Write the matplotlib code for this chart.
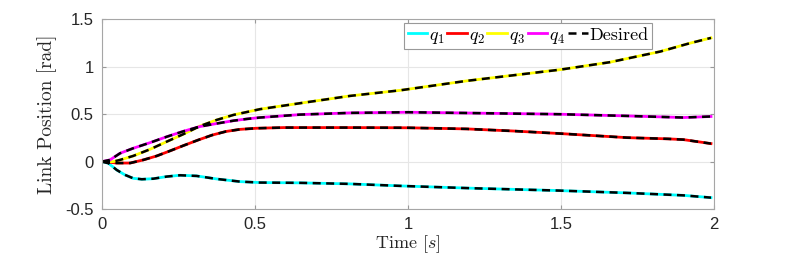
import numpy as np
import matplotlib.pyplot as plt

plt.rcParams['mathtext.fontset'] = 'cm'

# joint trajectories (time in s, angle in rad)
t_q1 = [0, 0.021, 0.048, 0.075, 0.102, 0.13, 0.168, 0.211, 0.255, 0.309, 0.375,
        0.451, 0.516, 0.647, 0.81, 0.974, 1.2, 1.497, 1.715, 1.9, 1.99]
q1 = [0, -0.017, -0.088, -0.14, -0.176, -0.186, -0.18, -0.158, -0.144, -0.151, -0.183,
      -0.211, -0.221, -0.224, -0.235, -0.256, -0.28, -0.306, -0.33, -0.356, -0.38]

t_q2 = [0, 0.015, 0.048, 0.092, 0.135, 0.179, 0.222, 0.266, 0.315, 0.36, 0.405, 0.45,
        0.505, 0.593, 0.81, 1.0, 1.192, 1.35, 1.497, 1.715, 1.85, 1.9, 1.99]
q2 = [0, -0.003, -0.015, -0.015, 0.018, 0.06, 0.113, 0.169, 0.229, 0.28, 0.318, 0.34,
      0.352, 0.359, 0.359, 0.357, 0.345, 0.322, 0.296, 0.253, 0.24, 0.232, 0.19]

t_q3 = [0, 0.037, 0.059, 0.102, 0.157, 0.211, 0.266, 0.32, 0.375, 0.43, 0.516,
        0.647, 0.81, 0.974, 1.192, 1.497, 1.66, 1.824, 1.922, 1.99]
q3 = [0, 0.0, 0.018, 0.06, 0.13, 0.21, 0.29, 0.375, 0.44, 0.493, 0.553,
      0.616, 0.693, 0.752, 0.852, 0.97, 1.049, 1.161, 1.25, 1.305]

t_q4 = [0, 0.026, 0.059, 0.102, 0.157, 0.211, 0.266, 0.32, 0.375, 0.43, 0.473, 0.516,
        0.647, 0.81, 1.0, 1.497, 1.715, 1.9, 1.99]
q4 = [0, 0.018, 0.088, 0.141, 0.2, 0.262, 0.32, 0.37, 0.402, 0.432, 0.45, 0.465,
      0.496, 0.514, 0.521, 0.5, 0.482, 0.465, 0.476]

labels = ['$q_1$', '$q_2$', '$q_3$', '$q_4$']
colors = ['cyan', 'red', 'yellow', 'magenta']

fig = plt.figure(figsize=(7.89, 2.59), dpi=100)
ax = fig.add_axes([0.1293, 0.193, 0.7757, 0.732])

for tt, qq, lab, col in zip([t_q1, t_q2, t_q3, t_q4], [q1, q2, q3, q4], labels, colors):
    ax.plot(tt, qq, color=col, lw=2, label=lab)
for k, (tt, qq) in enumerate(zip([t_q1, t_q2, t_q3, t_q4], [q1, q2, q3, q4])):
    ax.plot(tt, qq, '--', color='k', lw=1.8, dashes=(3.2, 2.2),
            label='Desired' if k == 0 else None)

ax.set_xlim(0, 2)
ax.set_ylim(-0.5, 1.5)
ax.set_xticks([0, 0.5, 1, 1.5, 2])
ax.set_xticklabels(['0', '0.5', '1', '1.5', '2'])
ax.set_yticks([-0.5, 0, 0.5, 1, 1.5])
ax.set_yticklabels(['-0.5', '0', '0.5', '1', '1.5'])
ax.grid(True, color='0.9', lw=0.8)
ax.tick_params(direction='in', length=3, colors='0.6', labelcolor='0.15',
               labelsize=12, top=True, right=True)
ax.tick_params(axis='x', pad=6)
ax.tick_params(axis='y', pad=6)
for lbl in ax.get_xticklabels() + ax.get_yticklabels():
    lbl.set_fontfamily('Liberation Sans')
for sp in ax.spines.values():
    sp.set_color('0.65')

ax.set_xlabel('Time [$s$]', fontfamily='cmr10', fontsize=13, color='0.15', labelpad=1)
ax.set_ylabel('Link Position [rad]', fontfamily='cmr10', fontsize=14, color='0.15',
              labelpad=6)

handles, labs = ax.get_legend_handles_labels()
leg = ax.legend(handles, labs, ncol=5, loc='upper right', bbox_to_anchor=(0.905, 0.998),
                prop={'family': 'cmr10', 'size': 13},
                handlelength=1.1, handletextpad=0.1, columnspacing=0.15,
                borderpad=0.2, borderaxespad=0.2, fancybox=False, framealpha=1)
leg.get_frame().set_edgecolor('0.6')
leg.get_frame().set_linewidth(0.8)

fig.savefig('out.png', dpi=100)
